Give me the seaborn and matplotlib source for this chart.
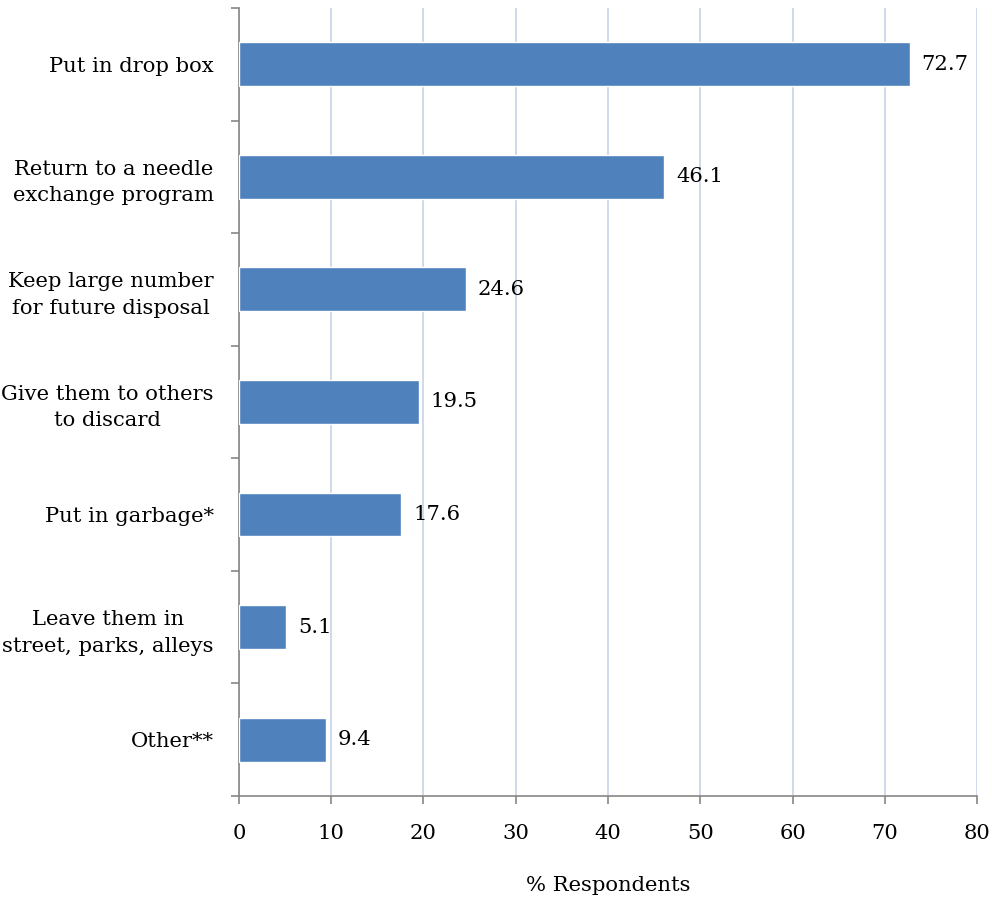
import matplotlib
matplotlib.use("Agg")
import matplotlib.pyplot as plt
import seaborn as sns
import pandas as pd
import numpy as np
from matplotlib.ticker import FixedLocator

categories = ["Put in drop box", "Return to a needle\nexchange program",
              "Keep large number\nfor future disposal", "Give them to others\nto discard",
              "Put in garbage*", "Leave them in\nstreet, parks, alleys", "Other**"]
values = [72.7, 46.1, 24.6, 19.5, 17.6, 5.1, 9.4]
xticks = [0, 10, 20, 30, 40, 50, 60, 70, 80]

sns.set_theme(style="white")
plt.rcParams['font.family'] = ['DejaVu Serif']
plt.rcParams['text.color'] = 'black'
plt.rcParams['xtick.color'] = 'black'
plt.rcParams['ytick.color'] = 'black'

FS = 15.2
df = pd.DataFrame({"cat": categories, "val": values})
fig = plt.figure(figsize=(9.92, 9.01), dpi=100)
ax = fig.add_axes([0.2409, 0.1166, 0.744, 0.8745])
sns.barplot(data=df, x="val", y="cat", orient="h", color="#4f81bd", saturation=1,
            width=0.39, ax=ax, zorder=3)

ax.set_xlim(0, 80)
ax.set_ylim(len(categories) - 0.5, -0.5)
ax.set_xticks(xticks)
ax.set_xticklabels([str(t) for t in xticks], fontsize=FS)
ax.tick_params(axis="x", which="major", direction="out", length=6, width=1.2,
               color="#868686", labelcolor="black", pad=14, bottom=True)
ax.tick_params(axis="y", which="major", length=0, pad=18, labelsize=FS, labelcolor="black")
for lab in ax.get_yticklabels():
    lab.set_multialignment("center")
    lab.set_linespacing(1.5)
ax.yaxis.set_minor_locator(FixedLocator(np.arange(-0.5, len(categories) + 0.5, 1)))
ax.tick_params(axis="y", which="minor", direction="out", length=6, width=1.2,
               color="#868686", left=True)

ax.grid(axis="x", color="#c6d4e8", linewidth=1.2, zorder=0)
ax.grid(axis="y", visible=False)
for s in ["top", "right"]:
    ax.spines[s].set_visible(False)
for s in ["left", "bottom"]:
    ax.spines[s].set_color("#868686")
    ax.spines[s].set_linewidth(1.2)

for i, v in enumerate(values):
    ax.text(v + 1.3, i, f"{v:.1f}", va="center", ha="left", fontsize=FS, color="black")

ax.set_ylabel("")
ax.set_xlabel("% Respondents", fontsize=FS, labelpad=24, color="black")

fig.savefig("out.png", dpi=100)
